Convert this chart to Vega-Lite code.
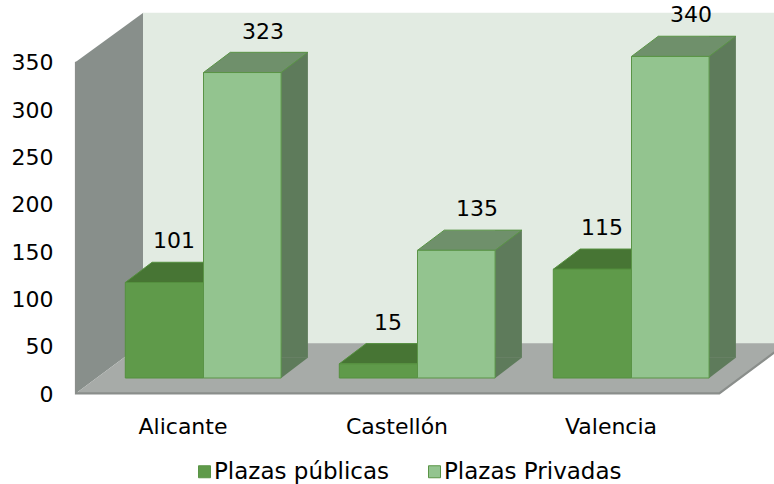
{
  "$schema": "https://vega.github.io/schema/vega-lite/v6.json",
  "width": 642,
  "height": 366,
  "autosize": {"type": "none"},
  "padding": {"left": 76, "top": 12, "right": 56, "bottom": 106},
  "background": "white",
  "config": {
    "view": {"stroke": null},
    "font": "DejaVu Sans",
    "axisY": {"labelPadding": 23, "labelOffset": 16, "ticks": false, "tickSize": 0, "domain": false, "grid": false, "labelFontSize": 22, "labelColor": "#000000", "labelFont": "DejaVu Sans", "tickCount": 8},
    "axisX": {"labelPadding": 38, "ticks": false, "tickSize": 0, "domain": false, "grid": false, "labelFontSize": 22, "labelColor": "#000000", "labelFont": "DejaVu Sans", "labelAngle": 0}
  },
  "data": {
    "values": [
      {"ciudad": "Alicante", "serie": "Plazas públicas", "valor": 101},
      {"ciudad": "Alicante", "serie": "Plazas Privadas", "valor": 323},
      {"ciudad": "Castellón", "serie": "Plazas públicas", "valor": 15},
      {"ciudad": "Castellón", "serie": "Plazas Privadas", "valor": 135},
      {"ciudad": "Valencia", "serie": "Plazas públicas", "valor": 115},
      {"ciudad": "Valencia", "serie": "Plazas Privadas", "valor": 340}
    ]
  },
  "layer": [
    {
      "data": {"values": [{}]},
      "mark": {"type": "point", "shape": "M-3.21,-3.163L-2.537,-3.653L-2.537,-0.347L-3.21,0.153Z", "size": 40000, "filled": true, "fill": "#888f8b", "opacity": 1, "strokeWidth": 0},
      "encoding": {
        "x": {"datum": "Castellón", "type": "nominal", "title": null, "scale": {"domain": ["Alicante", "Castellón", "Valencia"], "paddingInner": 0, "paddingOuter": 0}},
        "y": {"datum": 0, "type": "quantitative", "title": null, "scale": {"domain": [0, 387], "nice": false, "zero": true}}
      }
    },
    {
      "data": {"values": [{}]},
      "mark": {"type": "point", "shape": "M-2.54,-3.653L3.9,-3.653L3.9,-0.34L-2.54,-0.34Z", "size": 40000, "filled": true, "fill": "#e2ebe2", "opacity": 1, "strokeWidth": 0},
      "encoding": {
        "x": {"datum": "Castellón", "type": "nominal", "title": null},
        "y": {"datum": 0, "type": "quantitative", "title": null}
      }
    },
    {
      "data": {"values": [{}]},
      "mark": {"type": "point", "shape": "M-3.21,0.153L3.223,0.153L3.896,-0.347L-2.537,-0.347Z", "size": 40000, "filled": true, "fill": "#a7aba8", "opacity": 1, "strokeWidth": 0},
      "encoding": {
        "x": {"datum": "Castellón", "type": "nominal", "title": null},
        "y": {"datum": 0, "type": "quantitative", "title": null}
      }
    },
    {
      "data": {"values": [{}]},
      "mark": {"type": "point", "shape": "M-3.21,-3.163L-3.21,0.153L3.223,0.153L3.896,-0.347", "size": 40000, "filled": false, "stroke": "#8a8e8b", "strokeWidth": 2.2, "opacity": 1},
      "encoding": {
        "x": {"datum": "Castellón", "type": "nominal", "title": null},
        "y": {"datum": 0, "type": "quantitative", "title": null}
      }
    },
    {
      "transform": [{"filter": "datum.serie === 'Plazas públicas'"}],
      "mark": {"type": "point", "shape": "M-0.391,0L0.391,0L0.659,-0.202L-0.123,-0.202Z", "size": 40000, "filled": true, "fill": "#477534", "opacity": 1, "stroke": "#55903f", "strokeWidth": 1, "xOffset": -18.6},
      "encoding": {
        "x": {"field": "ciudad", "type": "nominal", "title": null},
        "y": {"field": "valor", "type": "quantitative", "title": null}
      }
    },
    {
      "transform": [{"filter": "datum.serie === 'Plazas públicas'"}],
      "mark": {"type": "bar", "width": 78.2, "xOffset": -18.6, "stroke": "#55903f", "strokeWidth": 1},
      "encoding": {
        "x": {"field": "ciudad", "type": "nominal", "title": null},
        "y": {"field": "valor", "type": "quantitative", "title": null},
        "color": {
          "field": "serie", "type": "nominal",
          "scale": {"domain": ["Plazas públicas", "Plazas Privadas"], "range": ["#5f9a4a", "#93c48f"]},
          "legend": {"orient": "none", "legendX": 117, "legendY": 448, "direction": "horizontal", "title": null, "symbolType": "square", "symbolSize": 144, "labelFontSize": 23, "labelFont": "DejaVu Sans", "labelColor": "#000000", "labelOffset": -2, "labelLimit": 400, "columnPadding": 33, "padding": 0, "symbolStrokeWidth": 1, "symbolStrokeColor": "#55883f", "symbolOpacity": 1}
        }
      }
    },
    {
      "transform": [{"filter": "datum.serie === 'Plazas Privadas'"}],
      "mark": {"type": "bar", "width": 26.8, "xOffset": 111.5, "yOffset": -20.2, "y2Offset": -20.2, "fill": "#5e7b5b", "strokeWidth": 0},
      "encoding": {
        "x": {"field": "ciudad", "type": "nominal", "title": null},
        "y": {"field": "valor", "type": "quantitative", "title": null}
      }
    },
    {
      "transform": [{"filter": "datum.serie === 'Plazas Privadas'"}],
      "mark": {"type": "point", "shape": "M-0.136,0.002L-0.136,-0.206L0.136,-0.206Z", "size": 40000, "filled": true, "fill": "#5e7b5b", "opacity": 1, "strokeWidth": 0, "xOffset": 111.5},
      "encoding": {
        "x": {"field": "ciudad", "type": "nominal", "title": null},
        "y": {"datum": 0, "type": "quantitative", "title": null}
      }
    },
    {
      "transform": [{"filter": "datum.serie === 'Plazas Privadas'"}],
      "mark": {"type": "point", "shape": "M-0.388,0L0.388,0L0.656,-0.202L-0.12,-0.202Z", "size": 40000, "filled": true, "fill": "#6f906b", "opacity": 1, "stroke": "#5a9446", "strokeWidth": 1, "xOffset": 59.3},
      "encoding": {
        "x": {"field": "ciudad", "type": "nominal", "title": null},
        "y": {"field": "valor", "type": "quantitative", "title": null}
      }
    },
    {
      "transform": [{"filter": "datum.serie === 'Plazas Privadas'"}],
      "mark": {"type": "bar", "width": 77.6, "xOffset": 59.3, "stroke": "#5a9446", "strokeWidth": 1},
      "encoding": {
        "x": {"field": "ciudad", "type": "nominal", "title": null},
        "y": {"field": "valor", "type": "quantitative", "title": null},
        "color": {"field": "serie", "type": "nominal"}
      }
    },
    {
      "transform": [{"filter": "datum.serie === 'Plazas públicas'"}],
      "mark": {"type": "text", "xOffset": -9, "dy": -34, "baseline": "alphabetic", "align": "center", "fontSize": 22, "font": "DejaVu Sans", "color": "#000000"},
      "encoding": {
        "x": {"field": "ciudad", "type": "nominal", "title": null},
        "y": {"field": "valor", "type": "quantitative", "title": null},
        "text": {"field": "valor", "type": "quantitative"}
      }
    },
    {
      "transform": [{"filter": "datum.serie === 'Plazas Privadas'"}],
      "mark": {"type": "text", "xOffset": 80, "dy": -34, "baseline": "alphabetic", "align": "center", "fontSize": 22, "font": "DejaVu Sans", "color": "#000000"},
      "encoding": {
        "x": {"field": "ciudad", "type": "nominal", "title": null},
        "y": {"field": "valor", "type": "quantitative", "title": null},
        "text": {"field": "valor", "type": "quantitative"}
      }
    }
  ]
}
